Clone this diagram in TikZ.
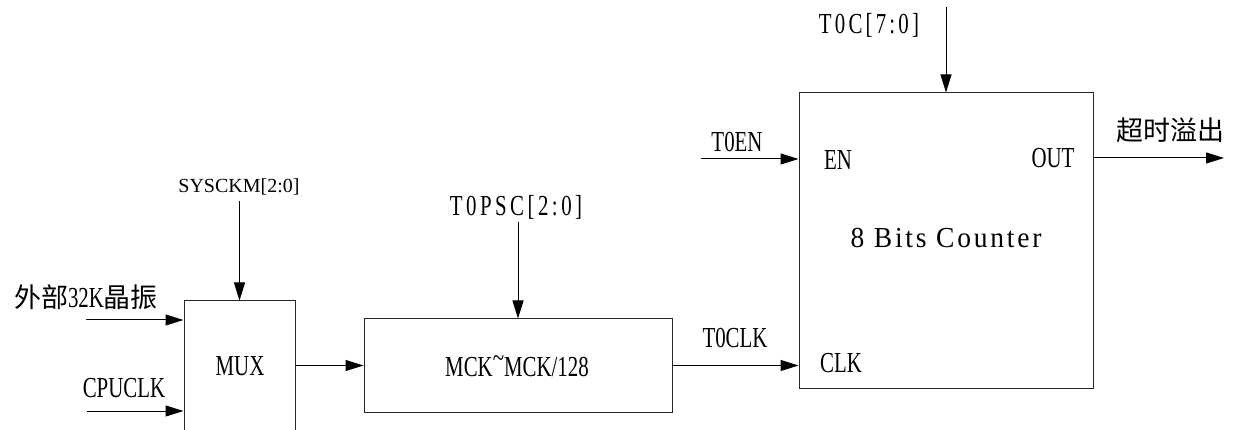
\documentclass[tikz,border=0pt]{standalone}
\usepackage{fontspec}
\setmainfont{Liberation Serif}[FakeStretch=0.72]
\newfontfamily\cjk{Noto Sans CJK SC}
\newfontfamily\tnr{Liberation Serif}
\newfontfamily\cntfont{Liberation Serif}[FakeStretch=0.95, LetterSpace=9.5]
\usetikzlibrary{arrows.meta}
\newcommand{\cjksz}{\fontsize{27}{30}\selectfont}
\tikzset{
  box/.style={draw=black!85, line width=1pt, inner sep=0pt, fill=none},
  arr/.style={-{Triangle[length=18pt,width=11pt]}, line width=1pt, draw=black},
  lbl/.style={inner sep=0pt, anchor=center, font=\fontsize{29}{32}\selectfont},
  sml/.style={inner sep=0pt, anchor=center, font=\tnr\fontsize{20}{22}\selectfont}
}
\begin{document}
\begin{tikzpicture}[x=1pt, y=-1pt]
\useasboundingbox (0,0) rectangle (1240,430);
\clip (0,0) rectangle (1240,430);
\fill[white] (0,0) rectangle (1240,430);
% boxes
\node[box, minimum width=111pt, minimum height=140pt] (mux) at (239.5,371) {};
\node[box, minimum width=308pt, minimum height=93pt] (mck) at (518,365.5) {};
\node[box, minimum width=294pt, minimum height=295pt] (cnt) at (946,240.5) {};
% box texts
\node[lbl] (muxt) at (240,366) {MUX};
\node[lbl] (mckt) at (517,366) {MCK\raisebox{0.32em}{\textasciitilde}MCK/128};
\node[lbl] (cntt) at (946,238) {\cntfont 8 Bits Counter};
\node[lbl] (en) at (838,160) {EN};
\node[lbl] (out) at (1053,158) {OUT};
\node[lbl] (clk) at (841,363) {CLK};
% external labels
\node[lbl] (ext) at (86,297) {{\cjk\cjksz 外部}32K{\cjk\cjksz 晶振}};
\node[lbl] (cpu) at (124,388) {CPUCLK};
\node[sml] (sys) at (239,187) {SYSCKM[2:0]};
\node[lbl] (psc) at (516,207) {\addfontfeature{LetterSpace=12}T0PSC[2:0]};
\node[lbl] (t0clk) at (735,338) {T0CLK};
\node[lbl] (t0en) at (737,142) {T0EN};
\node[lbl] (t0c) at (869,25) {\addfontfeature{LetterSpace=11}T0C[7:0]};
\node[lbl] (ovf) at (1170,130) {\cjk\cjksz 超时溢出};
% free ends
\coordinate (in1) at (86,320);
\coordinate (in2) at (87,411);
\coordinate (sysS) at (239.5,201);
\coordinate (pscS) at (518,222);
\coordinate (enS) at (701,159);
\coordinate (t0cS) at (946,7);
\coordinate (outE) at (1224,158);
% connectors
\draw[arr] (in1) -- (in1 -| mux.west);
\draw[arr] (in2) -- (in2 -| mux.west);
\draw[arr] (sysS) -- (mux.north);
\draw[arr] (mck.west -| mux.east) -- (mck.west);
\draw[arr] (pscS) -- (mck.north);
\draw[arr] (mck.east) -- (mck.east -| cnt.west);
\draw[arr] (enS) -- (enS -| cnt.west);
\draw[arr] (t0cS) -- (cnt.north);
\draw[arr] (outE -| cnt.east) -- (outE);
\end{tikzpicture}
\end{document}
